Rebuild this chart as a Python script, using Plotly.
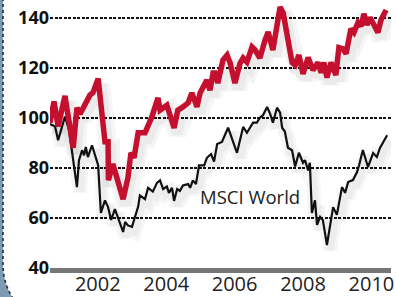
import numpy as np
import plotly.graph_objects as go

# ---- data (decimal years, index values) ----
red_x = [2000.60, 2000.72, 2000.84, 2001.04, 2001.28, 2001.39, 2001.48, 2001.63, 2001.77, 2001.86,
         2002.01, 2002.21, 2002.30, 2002.31, 2002.44, 2002.74, 2002.88, 2002.97, 2003.06, 2003.18,
         2003.38, 2003.58, 2003.76, 2003.82, 2004.02, 2004.23, 2004.34, 2004.49, 2004.64, 2004.75,
         2004.90, 2004.99, 2005.19, 2005.28, 2005.37, 2005.43, 2005.51, 2005.66, 2005.78, 2005.87,
         2006.01, 2006.16, 2006.25, 2006.36, 2006.51, 2006.60, 2006.74, 2006.89, 2006.98, 2007.12,
         2007.24, 2007.33, 2007.42, 2007.56, 2007.68, 2007.77, 2007.88, 2008.00, 2008.15, 2008.29,
         2008.44, 2008.53, 2008.61, 2008.70, 2008.82, 2008.96, 2009.05, 2009.17, 2009.26, 2009.40,
         2009.49, 2009.61, 2009.70, 2009.78, 2009.87, 2009.96, 2010.19, 2010.28, 2010.43]
red_y = [98, 106.5, 96.5, 108.7, 88, 104, 101.5, 106, 109, 110,
         115.6, 90.4, 90.4, 75, 81.5, 67.5, 76, 86, 84, 94,
         94, 100.3, 107.9, 103, 105, 95.9, 103, 104.3, 105.9, 109.9,
         104.3, 109.9, 115, 111, 117.8, 117.8, 113.8, 123, 125, 121.8,
         113.8, 121.8, 123.8, 122.2, 128.2, 127, 123.8, 131, 134.2, 127,
         137.8, 144.2, 141.8, 129.8, 122, 121, 125, 117.5, 124, 119,
         122, 118, 122, 116, 122, 117, 128, 127.5, 125.5, 135.5,
         134, 138, 136.5, 141.5, 137, 140, 134, 139, 143]

msci_x = [2000.60, 2000.75, 2000.84, 2001.04, 2001.16, 2001.28, 2001.39, 2001.45, 2001.54, 2001.60,
          2001.65, 2001.71, 2001.83, 2001.92, 2002.01, 2002.09, 2002.21, 2002.30, 2002.39, 2002.50,
          2002.62, 2002.74, 2002.80, 2002.88, 2003.00, 2003.12, 2003.18, 2003.23, 2003.38, 2003.47,
          2003.61, 2003.73, 2003.82, 2003.91, 2004.02, 2004.08, 2004.17, 2004.23, 2004.32, 2004.40,
          2004.49, 2004.64, 2004.70, 2004.78, 2004.87, 2004.96, 2005.11, 2005.19, 2005.31, 2005.40,
          2005.49, 2005.63, 2005.81, 2006.07, 2006.25, 2006.36, 2006.54, 2006.65, 2006.74, 2006.83,
          2006.95, 2007.04, 2007.12, 2007.24, 2007.33, 2007.39, 2007.47, 2007.56, 2007.68, 2007.77,
          2007.88, 2008.00, 2008.06, 2008.15, 2008.20, 2008.26, 2008.35, 2008.41, 2008.50, 2008.58,
          2008.70, 2008.88, 2008.99, 2009.14, 2009.23, 2009.32, 2009.46, 2009.58, 2009.64, 2009.75,
          2009.90, 2010.05, 2010.16, 2010.25, 2010.46]
msci_y = [97.5, 96.5, 91, 100.5, 95, 83, 72.3, 83, 87, 85,
          88.3, 84.3, 89, 85, 81, 62, 67, 64.3, 59.2, 63.5,
          58.5, 54.4, 58.4, 57, 56.4, 62, 64.5, 69, 67.5, 72,
          70.5, 74, 75, 71.5, 72.5, 70, 72, 66.8, 71.5, 70.8,
          73, 73.5, 72, 75, 73.5, 81, 81, 84, 85.5, 82.5,
          89.5, 90.3, 96, 86, 96.3, 94, 98, 98, 100, 101,
          104.3, 101.5, 98, 104, 102, 96, 94.5, 88, 87, 80.5,
          86, 82, 83, 79, 82, 62, 67, 57.2, 60.4, 59.2,
          49.2, 64.3, 61.2, 72.3, 70, 74.3, 75.1, 78.3, 81, 87.1,
          80.3, 85.9, 84.3, 87.9, 93]

y_ticks = [40, 60, 80, 100, 120, 140]
x_ticks = [2002, 2004, 2006, 2008, 2010]
x_ticktext = ["2002", "2004", "2006", "2008", "2010"]
label_text = "MSCI World"

# ---- layout geometry ----
W, H = 396, 297
ML, MR, MT, MB = 50, 5, 0, 29
PW, PH = W - ML - MR, H - MT - MB
PX_PER_YEAR = 34.2
PX_PER_UNIT = 2.505

def pxx(p):
    return (p - ML) / PW

def pxy(q):
    return (H - MB - q) / PH

fig = go.Figure()

# soft drop shadows (offset copies of the series)
def shadow(xs, ys, dx_px, dy_px, widths, alpha):
    sx = [v + dx_px / PX_PER_YEAR for v in xs]
    sy = [v - dy_px / PX_PER_UNIT for v in ys]
    for w in widths:
        fig.add_trace(go.Scatter(x=sx, y=sy, mode="lines",
                                 line=dict(color=f"rgba(0,0,0,{alpha})", width=w),
                                 hoverinfo="skip"))

shadow(msci_x, msci_y, 3, 5, [14, 8], 0.035)
shadow(red_x, red_y, 3, 6, [18, 11], 0.04)

fig.add_trace(go.Scatter(x=msci_x, y=msci_y, mode="lines",
                         line=dict(color="#111111", width=2.2), hoverinfo="skip"))
fig.add_trace(go.Scatter(x=red_x, y=red_y, mode="lines",
                         line=dict(color="#c4102e", width=5.5), hoverinfo="skip"))

fig.add_annotation(x=2004.93, y=68.7, text=label_text, showarrow=False,
                   xanchor="left", yanchor="middle",
                   font=dict(family="Open Sans", size=18.5, color="#222222"))

# decorative left panel border with rounded corner
R = 60
cx, cy = 3 + R, 265
ts = np.linspace(0, np.arcsin(34 / R), 14)
arc = [(cx - R * np.cos(t), cy + R * np.sin(t)) for t in ts]
border = [(3, -2), (3, cy)] + arc
path_line = "M " + " L ".join(f"{pxx(a):.4f},{pxy(b):.4f}" for a, b in border)
fill_pts = [(-2, -2)] + border + [(-2, H + 2)]
path_fill = "M " + " L ".join(f"{pxx(a):.4f},{pxy(b):.4f}" for a, b in fill_pts) + " Z"
fig.add_shape(type="path", path=path_fill, xref="paper", yref="paper",
              fillcolor="#7e9bb4", line=dict(width=0), layer="above")
fig.add_shape(type="path", path=path_line, xref="paper", yref="paper",
              line=dict(color="#222222", width=1.5, dash="dot"), layer="above")

fig.update_layout(
    width=W, height=H,
    margin=dict(l=ML, r=MR, t=MT, b=MB),
    paper_bgcolor="white", plot_bgcolor="white",
    showlegend=False,
    xaxis=dict(range=[2006 + (ML - 234.6) / PX_PER_YEAR, 2006 + (W - MR - 234.6) / PX_PER_YEAR],
               tickvals=x_ticks, ticktext=x_ticktext, ticks="",
               showgrid=False, zeroline=False, automargin=False,
               showline=True, linecolor="#777777", linewidth=5,
               ticklabelstandoff=-6,
               tickfont=dict(family="Open Sans", size=20, color="#222222")),
    yaxis=dict(range=[40, 40 + PH / PX_PER_UNIT], tickvals=y_ticks, ticks="",
               showgrid=True, gridcolor="#111111", gridwidth=2, griddash="3px,1.5px",
               zeroline=False, showline=False, automargin=False,
               tickfont=dict(family="Open Sans", size=18, color="#111111", weight="bold")),
)

fig.write_html("out.html", config={"displayModeBar": False},
               post_script="document.body.style.margin='0';document.body.style.overflow='hidden';")
